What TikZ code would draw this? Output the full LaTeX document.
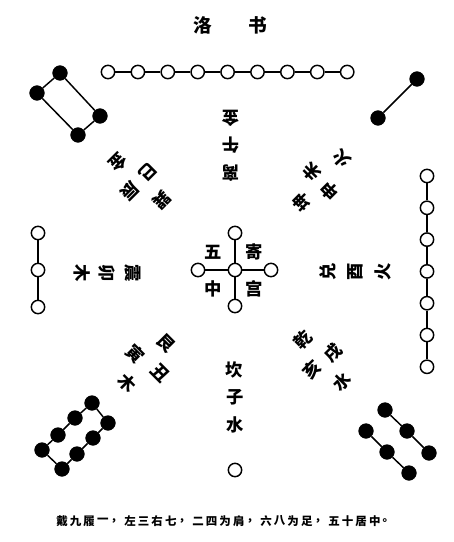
\documentclass[tikz,border=0pt]{standalone}
\usepackage{fontspec}
\newfontfamily\cjk{Noto Sans CJK SC}
\begin{document}
\begin{tikzpicture}[x=0.75pt,y=-0.75pt,
  wdot/.style={circle,draw,fill=white,line width=1.1pt,minimum size=10pt,inner sep=0pt},
  bdot/.style={circle,fill=black,draw=black,minimum size=11pt,inner sep=0pt},
  link/.style={line width=1.1pt},
  lab/.style={font=\cjk\fontsize{13}{13}\selectfont\bfseries,inner sep=0pt},
  ttl/.style={font=\cjk\fontsize{14}{14}\selectfont\bfseries,inner sep=0pt},
  captext/.style={font=\cjk\fontsize{8.6}{8.6}\selectfont\bfseries,inner sep=0pt}]
\useasboundingbox[fill=white] (0,0) rectangle (453,542);

% title
\node[ttl] (t1) at (203,25) {洛};
\node[ttl] (t2) at (258,25) {书};

% top row: nine
\foreach \i in {1,...,9} \node[wdot] (n\i) at ({108+29.9*(\i-1)},72) {};
\foreach \i [evaluate=\i as \j using int(\i+1)] in {1,...,8} \draw[link] (n\i) -- (n\j);

% top-left: four
\node[bdot] (f1) at (60,73) {};
\node[bdot] (f2) at (37,93) {};
\node[bdot] (f3) at (100,116) {};
\node[bdot] (f4) at (78,135) {};
\draw[link] (f1) -- (f2) (f2) -- (f4) (f4) -- (f3) (f3) -- (f1);

% top-right: two
\node[bdot] (s1) at (417,79) {};
\node[bdot] (s2) at (378,118) {};
\draw[link] (s1) -- (s2);

% left: three
\foreach \i in {1,2,3} \node[wdot] (l\i) at (38,{233+37*(\i-1)}) {};
\draw[link] (l1) -- (l2) (l2) -- (l3);

% right: seven
\foreach \i in {1,...,7} \node[wdot] (r\i) at (427,{176+31.8*(\i-1)}) {};
\foreach \i [evaluate=\i as \j using int(\i+1)] in {1,...,6} \draw[link] (r\i) -- (r\j);

% center: five
\node[wdot] (c0) at (235,270) {};
\node[wdot] (cN) at (235,233) {};
\node[wdot] (cS) at (235,306) {};
\node[wdot] (cW) at (198,270) {};
\node[wdot] (cE) at (271,270) {};
\draw[link] (c0) -- (cN) (c0) -- (cS) (c0) -- (cW) (c0) -- (cE);
\node[lab] (k1) at (213,252) {五};
\node[lab] (k2) at (254,252) {寄};
\node[lab] (k3) at (213,289) {中};
\node[lab] (k4) at (254,289) {宫};

% bottom: one
\node[wdot] (b1) at (235,470) {};

% bottom-left: eight
\node[bdot] (e1) at (92,403) {};
\node[bdot] (e2) at (75,418) {};
\node[bdot] (e3) at (58,435) {};
\node[bdot] (e4) at (42,450) {};
\node[bdot] (e5) at (62,469) {};
\node[bdot] (e6) at (77,454) {};
\node[bdot] (e7) at (93,438) {};
\node[bdot] (e8) at (108,423) {};
\draw[link] (e1) -- (e2) (e2) -- (e3) (e3) -- (e4) (e4) -- (e5) (e5) -- (e6) (e6) -- (e7) (e7) -- (e8) (e8) -- (e1);

% bottom-right: six
\node[bdot] (x1) at (385,410) {};
\node[bdot] (x2) at (407,431) {};
\node[bdot] (x3) at (429,453) {};
\node[bdot] (x4) at (366,431) {};
\node[bdot] (x5) at (387,452) {};
\node[bdot] (x6) at (409,473) {};
\draw[link] (x1) -- (x2) (x2) -- (x3) (x4) -- (x5) (x5) -- (x6);

% top label
\node[lab,rotate=180] (u1) at (231,173) {离};
\node[lab,rotate=180] (u2) at (231,145) {午};
\node[lab,rotate=180] (u3) at (231,118) {金};

% left label
\node[lab,rotate=-90] (w1) at (133,273) {震};
\node[lab,rotate=-90] (w2) at (107,273) {卯};
\node[lab,rotate=-90] (w3) at (82,273) {木};

% right label
\node[lab,rotate=90] (v1) at (328,272) {兑};
\node[lab,rotate=90] (v2) at (355,272) {酉};
\node[lab,rotate=90] (v3) at (383,272) {火};

% bottom label
\node[lab] (d1) at (234,370) {坎};
\node[lab] (d2) at (235,397) {子};
\node[lab] (d3) at (235,425) {水};

% upper-left label
\node[lab,rotate=-135] (p1) at (162,200) {巽};
\node[lab,rotate=-135] (p2) at (130,191) {辰};
\node[lab,rotate=-135] (p3) at (148,172) {巳};
\node[lab,rotate=-135] (p4) at (118,162) {金};

% upper-right label
\node[lab,rotate=135] (q1) at (302,202) {坤};
\node[lab,rotate=135] (q2) at (330,191) {申};
\node[lab,rotate=135] (q3) at (312,172) {未};
\node[lab,rotate=135] (q4) at (342,159) {火};

% lower-left label
\node[lab,rotate=-45] (g1) at (166,343) {艮};
\node[lab,rotate=-45] (g2) at (135,354) {寅};
\node[lab,rotate=-45] (g3) at (160,373) {丑};
\node[lab,rotate=-45] (g4) at (127,383) {木};

% lower-right label
\node[lab,rotate=45] (h1) at (303,340) {乾};
\node[lab,rotate=45] (h2) at (333,353) {戌};
\node[lab,rotate=45] (h3) at (312,370) {亥};
\node[lab,rotate=45] (h4) at (342,382) {水};

% caption
\foreach \c [count=\i] in {戴,九,履,一,，,左,三,右,七,，,二,四,为,肩,，,六,八,为,足,，,五,十,居,中,。}
  \node[captext] (cap\i) at ({62+13.6*(\i-1)},521) {\c};
\end{tikzpicture}
\end{document}
